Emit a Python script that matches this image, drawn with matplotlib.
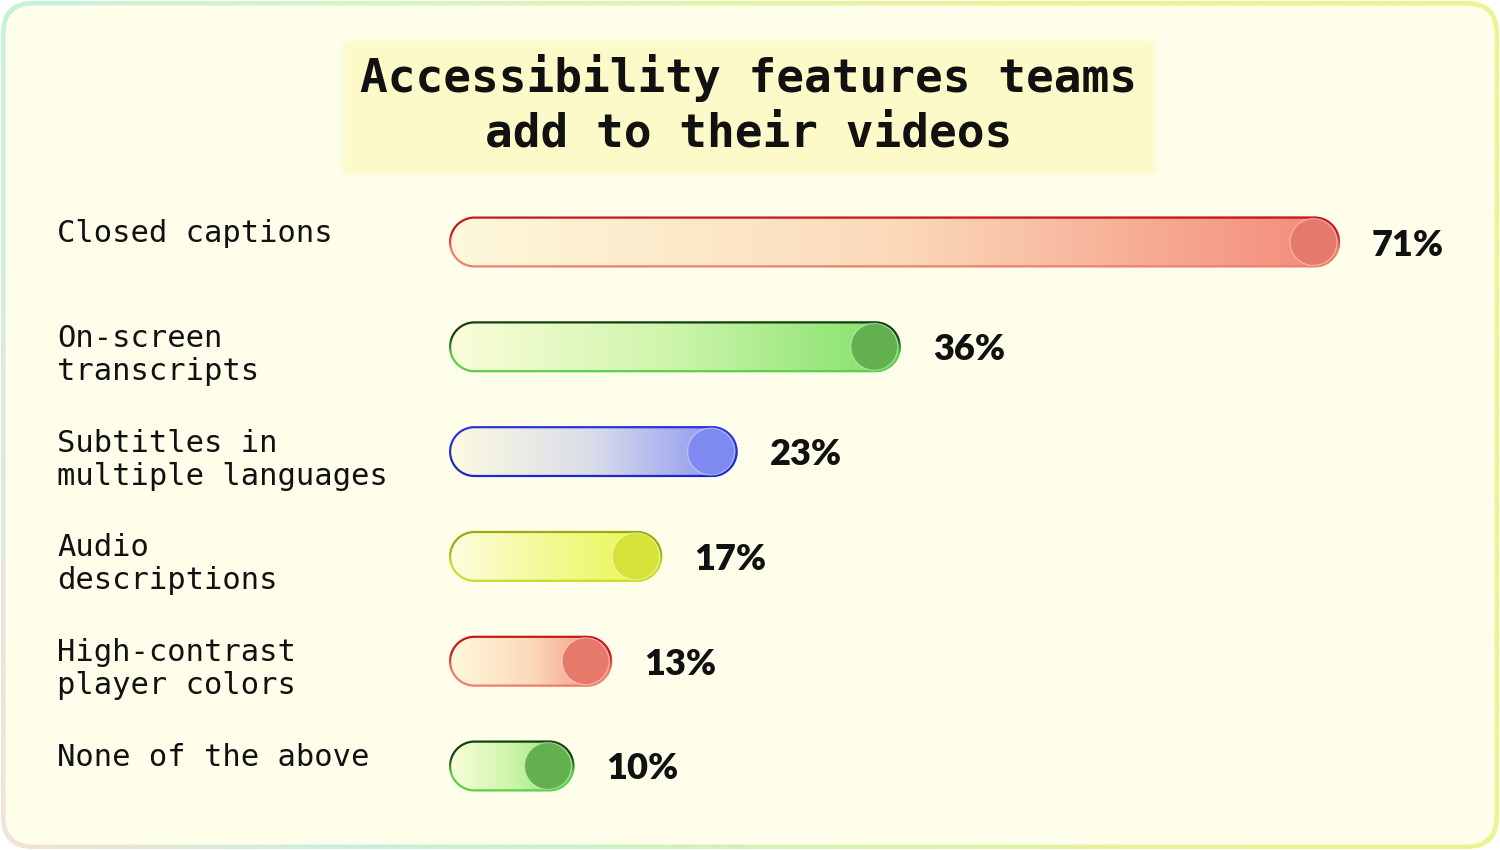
import numpy as np
import matplotlib
matplotlib.use("Agg")
import matplotlib.pyplot as plt
from matplotlib.patches import FancyBboxPatch, Circle, PathPatch
from matplotlib.path import Path
from matplotlib.colors import to_rgb

# ---------------- data ----------------
title_text = "Accessibility features teams\nadd to their videos"
categories = ["Closed captions", "On-screen\ntranscripts", "Subtitles in\nmultiple languages",
              "Audio\ndescriptions", "High-contrast\nplayer colors", "None of the above"]
values = [71, 36, 23, 17, 13, 10]
value_labels = ["71%", "36%", "23%", "17%", "13%", "10%"]

fill_start = ["#FEF9DB", "#FBFDDA", "#FDFBE0", "#FEFDE0", "#FEF9DB", "#FBFDDA"]
fill_mid = ["#FBDABA", "#CDF5AA", "#D9DCE9", "#F3F98E", "#FBDABA", "#CDF5AA"]
fill_end = ["#F38878", "#80E068", "#848EF2", "#E8F64A", "#F38878", "#80E068"]
edge_top = ["#C8161A", "#123F12", "#2A36D8", "#9AAA10", "#C8161A", "#123F12"]
edge_bottom = ["#F07E6E", "#58D048", "#1A2ACC", "#C8DC30", "#F07E6E", "#58D048"]
knob_colors = ["#E5796A", "#62B04E", "#7E8AEF", "#D5E237", "#E5796A", "#62B04E"]

# ---------------- layout ----------------
W, H = 1500, 850
fig = plt.figure(figsize=(15, 8.5), dpi=100)
fig.patch.set_facecolor("white")

ov = fig.add_axes([0, 0, 1, 1], zorder=0)
ov.set_xlim(0, W)
ov.set_ylim(H, 0)
ov.axis("off")

px_per_pct = 12.55
x_start = 449
row_pitch = 104.8
first_center = 242
ax_top_img = first_center - row_pitch / 2
ax_bot_img = first_center + (len(values) - 0.5) * row_pitch
ax = fig.add_axes([x_start / W, (H - ax_bot_img) / H, 100 * px_per_pct / W,
                   (ax_bot_img - ax_top_img) / H], zorder=-1)
ax.set_xlim(0, 100)
ax.set_ylim(len(values) - 0.5, -0.5)
ax.axis("off")


def to_img(x, y):
    d = ax.transData.transform((x, y))
    return d[0], H - d[1]


def lerp_colors(stops, n):
    pos = np.linspace(0, 1, len(stops))
    rgb = np.array([to_rgb(c) for c in stops])
    t = np.linspace(0, 1, n)
    return np.stack([np.interp(t, pos, rgb[:, k]) for k in range(3)], axis=-1)


def pill_vertices(x0, x1, yc, r, n=48):
    cx0, cx1 = x0 + r, x1 - r
    a = np.linspace(-np.pi / 2, np.pi / 2, n)
    right = np.column_stack([cx1 + r * np.cos(a), yc + r * np.sin(a)])
    a2 = np.linspace(np.pi / 2, 3 * np.pi / 2, n)
    left = np.column_stack([cx0 + r * np.cos(a2), yc + r * np.sin(a2)])
    return np.vstack([right, left])


def closed_path(v):
    verts = np.vstack([v, v[:1]])
    codes = [Path.MOVETO] + [Path.LINETO] * (len(v) - 1) + [Path.CLOSEPOLY]
    return verts, codes


# ---------------- background & border ----------------
ny, nx = 86, 151
top_row = lerp_colors(["#C6F2DC", "#D6F4C4", "#E4F4A4", "#EBF592", "#EBF592"], nx)
bot_row = lerp_colors(["#F4E3D8", "#C8F0DC", "#D6F2BA", "#E6F4A0", "#EBF592"], nx)
tv = np.linspace(0, 1, ny)[:, None, None]
border_img = top_row[None, :, :] * (1 - tv) + bot_row[None, :, :] * tv
outer = FancyBboxPatch((1, 1), W - 2, H - 2, boxstyle="round,pad=0,rounding_size=32",
                       fc="none", ec="none", transform=ov.transData)
ov.add_patch(outer)
im = ov.imshow(border_img, extent=(0, W, H, 0), aspect="auto", zorder=1, interpolation="bilinear")
im.set_clip_path(outer)
inner = FancyBboxPatch((5.5, 5.5), W - 11, H - 11, boxstyle="round,pad=0,rounding_size=28",
                       fc="#FEFEEA", ec="none", zorder=2)
ov.add_patch(inner)

# ---------------- title ----------------
for k, (grow, alpha) in enumerate([(6, 0.2), (3, 0.4), (0, 1.0)]):
    ov.add_patch(FancyBboxPatch((345 - grow, 43 - grow), 808 + 2 * grow, 128 + 2 * grow,
                                boxstyle=f"round,pad=0,rounding_size={6 + grow}",
                                fc="#FCFAC8", ec="none", alpha=alpha, zorder=3))
for k, line in enumerate(title_text.split("\n")):
    ov.text(749, 92 + 54.5 * k, line, ha="center", va="baseline", fontsize=33.2,
            family="DejaVu Sans Mono", fontweight="bold", color="#111111", zorder=4)

# ---------------- bars ----------------
bar_h = 51
r = bar_h / 2
edge_w = 2.2
for i, v in enumerate(values):
    xs, yc = to_img(0, i)
    xe, _ = to_img(v, i)
    # fill
    outer_v = pill_vertices(xs, xe, yc, r)
    verts, codes = closed_path(outer_v)
    pill = PathPatch(Path(verts, codes), fc="none", ec="none", transform=ov.transData)
    ov.add_patch(pill)
    grad = lerp_colors([fill_start[i], fill_mid[i], fill_end[i]], 256)[None, :, :]
    g = ov.imshow(grad, extent=(xs, xe, yc + r, yc - r), aspect="auto", zorder=5,
                  interpolation="bilinear")
    g.set_clip_path(pill)
    # outline ring with vertical gradient
    inner_v = pill_vertices(xs + edge_w, xe - edge_w, yc, r - edge_w)[::-1]
    v1, c1 = closed_path(outer_v)
    v2, c2 = closed_path(inner_v)
    ring = PathPatch(Path(np.vstack([v1, v2]), c1 + c2), fc="none", ec="none",
                     transform=ov.transData)
    ov.add_patch(ring)
    egrad = lerp_colors([edge_top[i], edge_top[i], edge_bottom[i], edge_bottom[i]], 64)[:, None, :]
    e = ov.imshow(egrad, extent=(xs - 1, xe + 1, yc + r + 1, yc - r - 1), aspect="auto",
                  zorder=6, interpolation="bilinear")
    e.set_clip_path(ring)
    # knob
    ov.add_patch(Circle((xe - 26.5, yc), 23.5, fc=knob_colors[i], ec=(1, 1, 1, 0.35),
                        lw=1.0, zorder=7))
    # value label
    ov.text(xe + 32, yc + 13.5, value_labels[i], ha="left", va="baseline", fontsize=26,
            family="Lato", fontweight="heavy", color="#111111", zorder=8)
    # category label
    for k, line in enumerate(categories[i].split("\n")):
        ov.text(57, yc + 33 * k, line, ha="left", va="baseline", fontsize=22,
                family="DejaVu Sans Mono", color="#111111", zorder=8)

fig.savefig("out.png", dpi=100, facecolor="white")
